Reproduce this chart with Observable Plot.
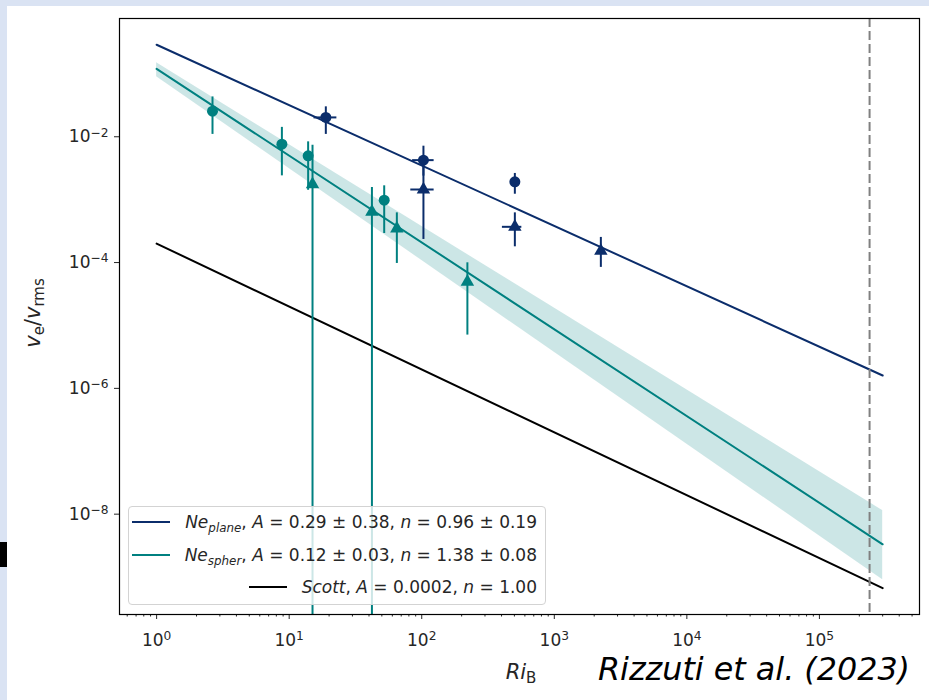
<!DOCTYPE html>
<html><head><meta charset="utf-8">
<script src="https://cdn.jsdelivr.net/npm/d3@7"></script>
<script src="https://cdn.jsdelivr.net/npm/@observablehq/plot@0.6"></script>
<style>
html,body{margin:0;padding:0;}
body{width:929px;height:700px;background:#dae3f3;position:relative;overflow:hidden;font-family:"DejaVu Sans",sans-serif;}
#white{position:absolute;left:7px;top:6px;width:922px;height:694px;background:#fff;}
#blk{position:absolute;left:0;top:542px;width:7px;height:25px;background:#000;}
#chart{position:absolute;left:0;top:0;}
#legend{position:absolute;left:128px;top:506px;width:418px;height:99px;box-sizing:border-box;border:1px solid #d3d3d3;border-radius:4px;background:rgba(255,255,255,0.8);font-family:"DejaVu Sans",sans-serif;font-size:17px;color:#262626;}
.row{position:absolute;right:8px;height:30px;display:flex;align-items:center;justify-content:flex-end;white-space:nowrap;}
.hd{display:inline-block;width:38px;height:2px;margin-right:15px;}
.sub{font-size:0.7em;position:relative;top:0.3em;}
i{font-style:oblique;}
</style></head>
<body>
<div id="white"></div><div id="blk"></div><div id="chart"></div>
<div id="legend">
  <div class="row" style="top:0px"><span class="hd" style="background:#0b2d6b"></span><span><i>Ne</i><span class="sub"><i>plane</i></span>, <i>A</i> = 0.29 ± 0.38, <i>n</i> = 0.96 ± 0.19</span></div>
  <div class="row" style="top:33px"><span class="hd" style="background:#008080"></span><span><i>Ne</i><span class="sub"><i>spher</i></span>, <i>A</i> = 0.12 ± 0.03, <i>n</i> = 1.38 ± 0.08</span></div>
  <div class="row" style="top:65px"><span class="hd" style="background:#000"></span><span><i>Scott</i>, <i>A</i> = 0.0002, <i>n</i> = 1.00</span></div>
</div>
<script>
// fitted power laws (endpoints at Ri_B = 1 and 3e5)
const fitRi = [1, 3e5];
const planeFit = [0.29, 1.60e-6];
const spherFit = [0.12, 3.32e-9];
const scottFit = [2e-4, 6.67e-10];
const spherBandHigh = [0.15, 1.14e-8];
const spherBandLow = [0.09, 9.07e-10];
const transitionRi = [2.39e5];

// Ne_spher, circles
const spherCircRi = [2.64, 8.81, 13.9, 52.1];
const spherCircVe = [0.0255, 0.00762, 0.00497, 0.000982];
const spherCircLo = [0.0109, 0.00239, 0.00141, 0.00029];
const spherCircHi = [0.043, 0.0141, 0.0083, 0.00166];
// Ne_spher, triangles (first two lower errors run off the axis)
const spherTriRi = [15.0, 42.1, 64.9, 221];
const spherTriVe = [0.00175, 0.00064, 0.000348, 0.0000494];
const spherTriLo = [1e-12, 1e-12, 0.0000968, 0.00000703];
const spherTriHi = [0.00735, 0.00156, 0.000617, 0.0000991];
// Ne_plane, circles
const planeCircRi = [18.9, 103, 504];
const planeCircRiLo = [15.4, 85.3, 504];
const planeCircRiHi = [22.9, 124, 504];
const planeCircVe = [0.0203, 0.00425, 0.00192];
const planeCircLo = [0.0109, 0.00237, 0.00122];
const planeCircHi = [0.0299, 0.00708, 0.00261];
// Ne_plane, triangles
const planeTriRi = [103, 504, 2245];
const planeTriRiLo = [82.7, 406, 2245];
const planeTriRiHi = [124, 569, 2245];
const planeTriVe = [0.00145, 0.00037, 0.000153];
const planeTriLo = [0.000233, 0.000178, 0.0000838];
const planeTriHi = [0.00353, 0.000617, 0.000251];

const xMajor = [1, 10, 100, 1e3, 1e4, 1e5];
const yMajor = [1e-8, 1e-6, 1e-4, 1e-2];
const xDomain = [10 ** -0.28, 10 ** 5.755];
const xMinor = [];
for (const p of [-1,0,1,2,3,4,5]) for (const m of [2,3,4,5,6,7,8,9]) {
  const v = m * 10 ** p;
  if (v >= xDomain[0] && v <= xDomain[1]) xMinor.push(v);
}

const navy = "#0b2d6b", teal = "#008080";

const fits = fitRi.map((ri, i) => ({ri, plane: planeFit[i], spher: spherFit[i], scott: scottFit[i], hi: spherBandHigh[i], lo: spherBandLow[i]}));
const pts = (ri, ve, lo, hi, rlo, rhi) => ri.map((x, i) => ({ri: x, ve: ve[i], lo: lo[i], hi: hi[i], rlo: rlo ? rlo[i] : x, rhi: rhi ? rhi[i] : x}));
const sC = pts(spherCircRi, spherCircVe, spherCircLo, spherCircHi);
const sT = pts(spherTriRi, spherTriVe, spherTriLo, spherTriHi);
const pC = pts(planeCircRi, planeCircVe, planeCircLo, planeCircHi, planeCircRiLo, planeCircRiHi);
const pT = pts(planeTriRi, planeTriVe, planeTriLo, planeTriHi, planeTriRiLo, planeTriRiHi);

const sup = d => "10^" + String(Math.round(Math.log10(d))).replace("-", "\u2212");

const errs = (data, color) => [
  Plot.ruleX(data, {x: "ri", y1: "lo", y2: "hi", stroke: color, strokeWidth: 2, clip: true}),
  Plot.ruleY(data, {y: "ve", x1: "rlo", x2: "rhi", stroke: color, strokeWidth: 2, clip: true})
];

const plot = Plot.plot({
  width: 929, height: 700,
  marginLeft: 119, marginRight: 10, marginTop: 18, marginBottom: 86,
  style: {background: "transparent", fontFamily: "DejaVu Sans", fontSize: "17px", color: "#262626"},
  x: {type: "log", domain: xDomain, label: null},
  y: {type: "log", domain: [10 ** -9.595, 10 ** -0.12], label: null},
  marks: [
    Plot.areaY(fits, {x: "ri", y1: "lo", y2: "hi", fill: teal, fillOpacity: 0.2}),
    Plot.line(fits, {x: "ri", y: "scott", stroke: "black", strokeWidth: 2}),
    Plot.line(fits, {x: "ri", y: "plane", stroke: navy, strokeWidth: 2}),
    Plot.line(fits, {x: "ri", y: "spher", stroke: teal, strokeWidth: 2}),
    Plot.ruleX(transitionRi, {stroke: "#808080", strokeWidth: 2, strokeDasharray: "9,4"}),
    ...errs(sC, teal), ...errs(sT, teal), ...errs(pC, navy), ...errs(pT, navy),
    Plot.dot(sC, {x: "ri", y: "ve", r: 5.5, fill: teal, symbol: "circle"}),
    Plot.dot(sT, {x: "ri", y: "ve", r: 5, fill: teal, symbol: "triangle"}),
    Plot.dot(pC, {x: "ri", y: "ve", r: 5.5, fill: navy, symbol: "circle"}),
    Plot.dot(pT, {x: "ri", y: "ve", r: 5, fill: navy, symbol: "triangle"}),
    Plot.axisX(xMinor, {tickSize: 2.5, tickFormat: () => "", stroke: "#262626"}),
    Plot.axisX(xMajor, {tickSize: 5, tickPadding: 14, tickFormat: sup, fontSize: 17, stroke: "#262626"}),
    Plot.axisY(yMajor, {tickSize: 5, tickPadding: 6, tickFormat: sup, fontSize: 17, stroke: "#262626"}),
    Plot.frame({stroke: "black", strokeWidth: 1.2})
  ]
});
document.getElementById("chart").appendChild(plot);

const svg = d3.select(plot);
svg.selectAll('g[aria-label="x-axis tick label"] text, g[aria-label="y-axis tick label"] text').each(function () {
  const t = this.textContent;
  if (!t.includes("^")) return;
  const [b, e] = t.split("^");
  const s = d3.select(this);
  s.text(null);
  s.append("tspan").text(b);
  s.append("tspan").attr("dy", "-0.45em").attr("font-size", "0.72em").text(e);
});

// axis labels
const yl = svg.append("text").attr("transform", "translate(40,313) rotate(-90)")
  .attr("text-anchor", "middle").attr("font-size", 21).attr("fill", "#262626").attr("font-family", "DejaVu Sans");
yl.append("tspan").attr("font-style", "oblique").text("v");
yl.append("tspan").attr("font-size", 15).attr("dy", 4).text("e");
yl.append("tspan").attr("dy", -4).text("/");
yl.append("tspan").attr("font-style", "oblique").text("v");
yl.append("tspan").attr("font-size", 15).attr("dy", 4).text("rms");

const xl = svg.append("text").attr("x", 521).attr("y", 679)
  .attr("text-anchor", "middle").attr("font-size", 21).attr("fill", "#262626").attr("font-family", "DejaVu Sans");
xl.append("tspan").attr("font-style", "oblique").text("Ri");
xl.append("tspan").attr("font-size", 15).attr("dy", 4).text("B");

svg.append("text").attr("x", 598).attr("y", 680).attr("text-anchor", "start")
  .attr("font-family", "'Liberation Sans Narrow','DejaVu Sans Condensed','Open Sans',sans-serif")
  .attr("font-style", "italic").attr("font-size", 32).attr("fill", "#000")
  .attr("textLength", 312).attr("lengthAdjust", "spacingAndGlyphs")
  .text("Rizzuti et al. (2023)");
</script>
</body></html>
